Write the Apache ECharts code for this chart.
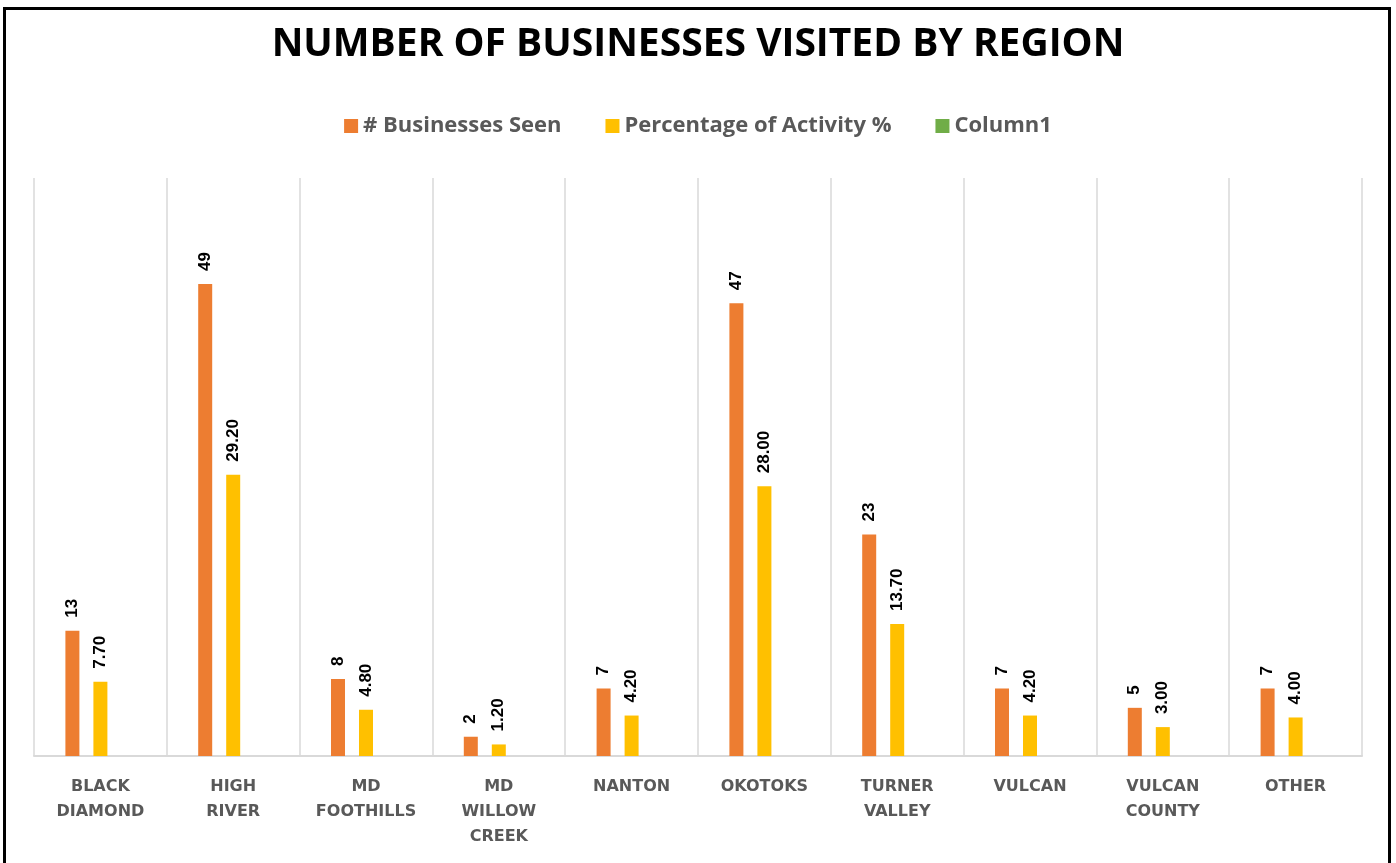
<!DOCTYPE html>
<html>
<head>
<meta charset="utf-8">
<title>Number of Businesses Visited by Region</title>
<script src="https://cdn.jsdelivr.net/npm/echarts@6/dist/echarts.min.js"></script>
<style>
  html, body { margin: 0; padding: 0; background: #fff; }
  #chart { width: 1396px; height: 863px; }
</style>
</head>
<body>
<div id="chart"></div>
<script>
// regions (category axis)
const REGIONS = [
  'BLACK\nDIAMOND', 'HIGH\nRIVER', 'MD\nFOOTHILLS', 'MD\nWILLOW\nCREEK', 'NANTON',
  'OKOTOKS', 'TURNER\nVALLEY', 'VULCAN', 'VULCAN\nCOUNTY', 'OTHER'
];
// series values
const BUSINESSES_SEEN = [13, 49, 8, 2, 7, 47, 23, 7, 5, 7];
const PCT_ACTIVITY = [7.7, 29.2, 4.8, 1.2, 4.2, 28.0, 13.7, 4.2, 3.0, 4.0];
const COLUMN1 = [null, null, null, null, null, null, null, null, null, null];

const chart = echarts.init(document.getElementById('chart'));

const labelStyle = (fmt) => ({
  show: true,
  position: 'top',
  rotate: 90,
  align: 'left',
  verticalAlign: 'middle',
  distance: 13,
  color: '#000',
  fontFamily: 'Liberation Sans',
  fontWeight: 'bold',
  fontSize: 17,
  formatter: fmt
});

const option = {
  backgroundColor: '#fff',
  animation: false,
  title: {
    text: 'NUMBER OF BUSINESSES VISITED BY REGION',
    left: 'center',
    top: 20,
    textStyle: {
      color: '#000',
      fontFamily: 'Open Sans',
      fontWeight: 'bold',
      fontSize: 39
    }
  },
  legend: {
    top: 110,
    left: 'center',
    itemWidth: 14,
    itemHeight: 14,
    itemGap: 44,
    icon: 'rect',
    textStyle: {
      color: '#595959',
      fontFamily: 'Open Sans',
      fontWeight: 'bold',
      fontSize: 22,
      padding: [0, 0, 0, 0]
    },
    data: ['# Businesses Seen', 'Percentage of Activity %', 'Column1']
  },
  grid: {
    left: 34,
    right: 34,
    top: 178,
    bottom: 107,
    containLabel: false
  },
  xAxis: {
    type: 'category',
    data: REGIONS,
    axisLine: { lineStyle: { color: '#d9d9d9', width: 2 } },
    axisTick: { show: false },
    splitLine: { show: true, interval: 0, lineStyle: { color: '#d9d9d9', width: 1.5 } },
    axisLabel: {
      interval: 0,
      margin: 18,
      color: '#595959',
      fontFamily: 'DejaVu Sans',
      fontWeight: 'bold',
      fontSize: 16,
      lineHeight: 25
    }
  },
  yAxis: {
    type: 'value',
    min: 0,
    max: 60,
    show: false,
    splitLine: { show: false }
  },
  series: [
    {
      name: '# Businesses Seen',
      type: 'bar',
      data: BUSINESSES_SEEN,
      barWidth: 14,
      barGap: '100%',
      itemStyle: { color: '#ED7D31' },
      label: labelStyle(p => String(p.value))
    },
    {
      name: 'Percentage of Activity %',
      type: 'bar',
      data: PCT_ACTIVITY,
      barWidth: 14,
      barGap: '100%',
      itemStyle: { color: '#FFC000' },
      label: labelStyle(p => Number(p.value).toFixed(2))
    },
    {
      name: 'Column1',
      type: 'bar',
      data: COLUMN1,
      barWidth: 14,
      barGap: '100%',
      itemStyle: { color: '#70AD47' }
    }
  ],
  graphic: [
    {
      type: 'rect',
      shape: { x: 4.5, y: 8.5, width: 1385, height: 900 },
      style: { fill: 'none', stroke: '#000', lineWidth: 3 },
      silent: true
    }
  ]
};

chart.setOption(option);
</script>
</body>
</html>
